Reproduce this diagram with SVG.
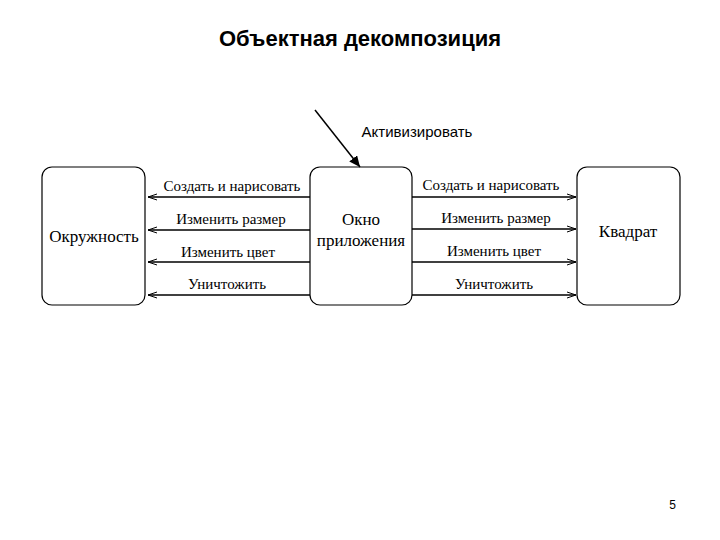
<svg xmlns="http://www.w3.org/2000/svg" width="720" height="540" viewBox="0 0 720 540">
<style>
.box{fill:#fff;stroke:#000;stroke-width:1.2}
.c{stroke:#000;stroke-width:1.5;fill:none}
.s{font-family:"Liberation Serif",serif;font-size:15px;text-anchor:middle}
.n{font-size:17px}
.h{font-family:"Liberation Sans",sans-serif}
</style>
<defs>
<marker id="o" markerWidth="10" markerHeight="8" refX="9" refY="4" orient="auto" markerUnits="userSpaceOnUse"><path d="M0,1 L9,4 L0,7" fill="none" stroke="#000" stroke-width="1"/></marker>
<marker id="f" markerWidth="12" markerHeight="10" refX="11" refY="5" orient="auto" markerUnits="userSpaceOnUse"><path d="M0,0 L11,5 L0,10 Z" fill="#000"/></marker>
</defs>
<rect width="720" height="540" fill="#fff"/>
<text class="h" x="360" y="46" font-size="22" font-weight="bold" text-anchor="middle">Объектная декомпозиция</text>
<g id="n1"><rect class="box" x="42" y="167" width="103" height="138" rx="10"/><text class="s n" x="94" y="242">Окружность</text></g>
<g id="n2"><rect class="box" x="310" y="167" width="102" height="138" rx="10"/><text class="s n" x="361" y="225">Окно</text><text class="s n" x="361" y="246">приложения</text></g>
<g id="n3"><rect class="box" x="577" y="167" width="103" height="138" rx="10"/><text class="s n" x="628" y="237">Квадрат</text></g>
<g id="connectors">
<line class="c" x1="315" y1="110" x2="360" y2="167" stroke-width="1.2" marker-end="url(#f)"/>
<text class="h" x="417" y="137" font-size="15" text-anchor="middle">Активизировать</text>
<line class="c" x1="310" y1="197" x2="148" y2="197" marker-end="url(#o)"/>
<line class="c" x1="310" y1="230" x2="148" y2="230" marker-end="url(#o)"/>
<line class="c" x1="310" y1="262" x2="148" y2="262" stroke-width="1" marker-end="url(#o)"/>
<line class="c" x1="310" y1="295" x2="148" y2="295" stroke-width="1" marker-end="url(#o)"/>
<line class="c" x1="412" y1="197" x2="576" y2="197" stroke-width="1" marker-end="url(#o)"/>
<line class="c" x1="412" y1="229" x2="576" y2="229" stroke-width="1" marker-end="url(#o)"/>
<line class="c" x1="412" y1="262" x2="576" y2="262" stroke-width="1" marker-end="url(#o)"/>
<line class="c" x1="412" y1="295" x2="576" y2="295" stroke-width="1" marker-end="url(#o)"/>
<text class="s" x="232" y="191">Создать и нарисовать</text>
<text class="s" x="231" y="224">Изменить размер</text>
<text class="s" x="228" y="257">Изменить цвет</text>
<text class="s" x="227" y="289">Уничтожить</text>
<text class="s" x="491" y="190">Создать и нарисовать</text>
<text class="s" x="496" y="223">Изменить размер</text>
<text class="s" x="494" y="256">Изменить цвет</text>
<text class="s" x="494" y="289">Уничтожить</text>
</g>
<text class="h" x="676" y="509" font-size="12" text-anchor="end">5</text>
</svg>
